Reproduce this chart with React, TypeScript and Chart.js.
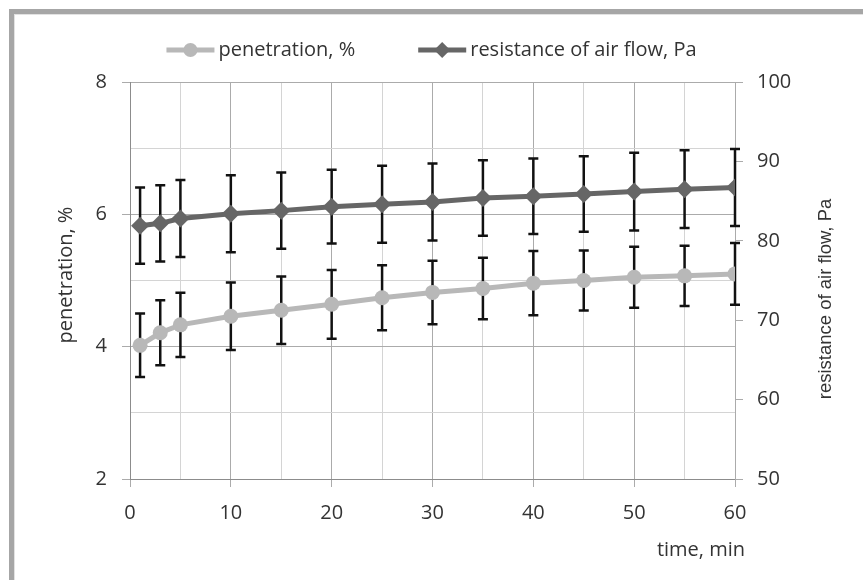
import { useEffect, useRef } from "react";
import { Chart, registerables } from "chart.js";

Chart.register(...registerables);

const times = [1, 3, 5, 10, 15, 20, 25, 30, 35, 40, 45, 50, 55, 60];
const penetration = [4.02, 4.21, 4.33, 4.46, 4.55, 4.64, 4.74, 4.82, 4.88, 4.96, 5.0, 5.05, 5.07, 5.1];
const penetrationErr = [0.48, 0.49, 0.485, 0.51, 0.51, 0.52, 0.49, 0.48, 0.465, 0.485, 0.455, 0.46, 0.455, 0.465];
const resistance = [81.9, 82.2, 82.8, 83.4, 83.8, 84.3, 84.6, 84.9, 85.4, 85.6, 85.9, 86.2, 86.5, 86.7];
const resistanceErr = [4.8, 4.8, 4.85, 4.85, 4.8, 4.65, 4.85, 4.85, 4.75, 4.75, 4.75, 4.9, 4.9, 4.85];

const seriesLabels = ["penetration, %", "resistance of air flow, Pa"];
const xTitle = "time, min";
const leftTitle = "penetration, %";
const rightTitle = "resistance of air flow, Pa";

const leftRange = [2, 8];
const rightRange = [50, 100];
const xRange = [0, 60];

const PEN_COLOR = "#b8b8b8";
const RES_COLOR = "#666666";
const MAJOR = "#ababab";
const MINOR = "#d4d4d4";
const TEXT = "#333333";
const FONT = "'Open Sans', 'DejaVu Sans', sans-serif";

const errorBars = {
  id: "errorBars",
  beforeDatasetsDraw(chart: any) {
    const ctx = chart.ctx;
    const errs = [penetrationErr, resistanceErr];
    ctx.save();
    ctx.strokeStyle = "#111111";
    ctx.lineWidth = 2.5;
    chart.data.datasets.forEach((ds: any, i: number) => {
      const yScale = chart.scales[ds.yAxisID];
      const xScale = chart.scales.x;
      ds.data.forEach((p: any, j: number) => {
        const x = xScale.getPixelForValue(p.x);
        const yTop = yScale.getPixelForValue(p.y + errs[i][j]);
        const yBot = yScale.getPixelForValue(p.y - errs[i][j]);
        ctx.beginPath();
        ctx.moveTo(x, yTop);
        ctx.lineTo(x, yBot);
        ctx.moveTo(x - 5, yTop);
        ctx.lineTo(x + 5, yTop);
        ctx.moveTo(x - 5, yBot);
        ctx.lineTo(x + 5, yBot);
        ctx.stroke();
      });
    });
    ctx.restore();
  },
};

const decorations = {
  id: "decorations",
  afterDraw(chart: any) {
    const ctx = chart.ctx;
    const area = chart.chartArea;
    ctx.save();
    // legend
    ctx.font = `20px ${FONT}`;
    ctx.textBaseline = "middle";
    ctx.fillStyle = TEXT;
    const lineW = 48;
    const gap = 4;
    const spacing = 63;
    const w1 = ctx.measureText(seriesLabels[0]).width;
    const w2 = ctx.measureText(seriesLabels[1]).width;
    const total = lineW + gap + w1 + spacing + lineW + gap + w2;
    let x = chart.width / 2 - total / 2;
    const ly = 50;
    const items = [
      { color: PEN_COLOR, style: "circle", text: seriesLabels[0], w: w1 },
      { color: RES_COLOR, style: "diamond", text: seriesLabels[1], w: w2 },
    ];
    items.forEach((it) => {
      ctx.strokeStyle = it.color;
      ctx.lineWidth = 5;
      ctx.beginPath();
      ctx.moveTo(x, ly);
      ctx.lineTo(x + lineW, ly);
      ctx.stroke();
      ctx.fillStyle = it.color;
      const cx = x + lineW / 2;
      ctx.beginPath();
      if (it.style === "circle") {
        ctx.arc(cx, ly, 7, 0, Math.PI * 2);
      } else {
        ctx.moveTo(cx, ly - 8);
        ctx.lineTo(cx + 8, ly);
        ctx.lineTo(cx, ly + 8);
        ctx.lineTo(cx - 8, ly);
        ctx.closePath();
      }
      ctx.fill();
      ctx.fillStyle = TEXT;
      ctx.textAlign = "left";
      ctx.fillText(it.text, x + lineW + gap, ly);
      x += lineW + gap + it.w + spacing;
    });
    // left title
    ctx.save();
    ctx.translate(area.left - 64, 275);
    ctx.rotate(-Math.PI / 2);
    ctx.textAlign = "center";
    ctx.textBaseline = "middle";
    ctx.font = `20px ${FONT}`;
    ctx.fillText(leftTitle, 0, 0);
    ctx.restore();
    // right title
    ctx.save();
    ctx.translate(area.right + 91, 299);
    ctx.rotate(-Math.PI / 2);
    ctx.textAlign = "center";
    ctx.textBaseline = "middle";
    ctx.font = `18.5px 'Liberation Sans', Arial, sans-serif`;
    ctx.fillText(rightTitle, 0, 0);
    ctx.restore();
    // x title
    ctx.textAlign = "right";
    ctx.textBaseline = "middle";
    ctx.font = `20px ${FONT}`;
    ctx.fillText(xTitle, area.right + 10, 550);
    ctx.restore();
  },
};

export default function App() {
  const ref = useRef<HTMLCanvasElement | null>(null);
  useEffect(() => {
    if (!ref.current) return;
    const chart = new Chart(ref.current, {
      type: "line",
      data: {
        datasets: [
          {
            label: seriesLabels[0],
            data: times.map((t, i) => ({ x: t, y: penetration[i] })),
            yAxisID: "y",
            borderColor: PEN_COLOR,
            backgroundColor: PEN_COLOR,
            borderWidth: 5,
            pointStyle: "circle",
            pointRadius: 7.5,
            pointBorderWidth: 0,
            pointHoverRadius: 7.5,
            tension: 0,
          },
          {
            label: seriesLabels[1],
            data: times.map((t, i) => ({ x: t, y: resistance[i] })),
            yAxisID: "y1",
            borderColor: RES_COLOR,
            backgroundColor: RES_COLOR,
            borderWidth: 5,
            pointStyle: "rectRot",
            pointRadius: 9,
            pointBorderWidth: 0,
            pointHoverRadius: 9,
            tension: 0,
          },
        ],
      },
      options: {
        animation: false,
        responsive: true,
        maintainAspectRatio: false,
        layout: { padding: { left: 20, right: 20, top: 82, bottom: 60 } },
        plugins: { legend: { display: false }, tooltip: { enabled: false } },
        scales: {
          x: {
            type: "linear",
            min: xRange[0],
            max: xRange[1],
            afterFit: (s: any) => {
              s.height = 41;
            },
            ticks: {
              stepSize: 5,
              autoSkip: false,
              maxRotation: 0,
              padding: 14,
              color: TEXT,
              font: { family: FONT, size: 20 },
              callback: (v: any) => (Number(v) % 10 === 0 ? String(v) : ""),
            },
            grid: {
              color: (c: any) => (c.tick && c.tick.value % 10 === 0 ? MAJOR : MINOR),
              tickColor: (c: any) => (c.tick && c.tick.value % 10 === 0 ? MAJOR : "rgba(0,0,0,0)"),
              tickLength: 8,
            },
            border: { color: "#8c8c8c" },
          },
          y: {
            type: "linear",
            position: "left",
            min: leftRange[0],
            max: leftRange[1],
            afterFit: (s: any) => {
              s.width = 110;
            },
            ticks: {
              stepSize: 1,
              padding: 15,
              color: TEXT,
              font: { family: FONT, size: 20 },
              callback: (v: any) => (Number(v) % 2 === 0 ? String(v) : ""),
            },
            grid: {
              color: (c: any) => (c.tick && c.tick.value % 2 === 0 ? MAJOR : MINOR),
              tickColor: (c: any) => (c.tick && c.tick.value % 2 === 0 ? MAJOR : "rgba(0,0,0,0)"),
              tickLength: 8,
            },
            border: { color: "#8c8c8c" },
          },
          y1: {
            type: "linear",
            position: "right",
            min: rightRange[0],
            max: rightRange[1],
            afterFit: (s: any) => {
              s.width = 108;
            },
            ticks: {
              stepSize: 10,
              padding: 14,
              color: TEXT,
              font: { family: FONT, size: 20 },
            },
            grid: {
              drawOnChartArea: false,
              tickColor: MAJOR,
              tickLength: 8,
            },
            border: { color: MAJOR },
          },
        },
      },
      plugins: [errorBars, decorations],
    });
    return () => chart.destroy();
  }, []);

  return (
    <div style={{ position: "fixed", left: 0, top: 0, width: 863, height: 580, background: "#fff" }}>
      <div
        style={{
          position: "absolute",
          left: 9,
          top: 9,
          width: 900,
          height: 700,
          borderLeft: "5px solid #a6a6a6",
          borderTop: "5px solid #a6a6a6",
          boxShadow: "inset 1px 1px 0 #e2e2e2",
        }}
      />
      <canvas ref={ref} style={{ position: "absolute", left: 0, top: 0 }} />
    </div>
  );
}
